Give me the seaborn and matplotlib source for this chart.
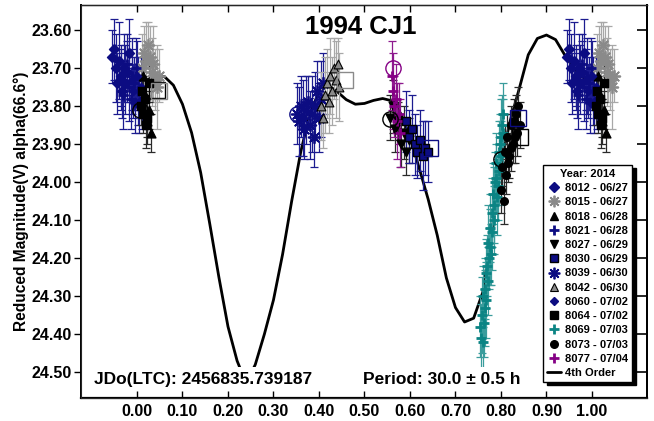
import numpy as np
import matplotlib.pyplot as plt
from matplotlib.lines import Line2D
from matplotlib.ticker import FormatStrFormatter, MultipleLocator
import seaborn as sns

NAVY = '#0c0c82'
GRAY = '#8a8a8a'
TEAL = '#0b8484'
PURPLE = '#850085'

# 4th order fit
fit_phase = [0.00, 0.02, 0.04, 0.06, 0.08, 0.10, 0.12, 0.14, 0.16, 0.18,
             0.20, 0.22, 0.24, 0.26, 0.28, 0.30, 0.32, 0.34, 0.36, 0.38,
             0.40, 0.42, 0.44, 0.46, 0.48, 0.50, 0.52, 0.54, 0.56, 0.58,
             0.60, 0.62, 0.64, 0.66, 0.68, 0.70, 0.72, 0.74, 0.76, 0.78,
             0.80, 0.82, 0.84, 0.86, 0.88, 0.90, 0.92, 0.94, 0.96, 0.98, 1.00]
fit_mag = [23.735, 23.731, 23.725, 23.722, 23.745, 23.795, 23.870, 23.975, 24.110, 24.250,
           24.380, 24.470, 24.530, 24.480, 24.400, 24.310, 24.190, 24.050, 23.920, 23.820,
           23.762, 23.745, 23.762, 23.783, 23.795, 23.793, 23.785, 23.780, 23.786, 23.820,
           23.880, 23.962, 24.045, 24.140, 24.252, 24.330, 24.368, 24.358, 24.290, 24.130,
           23.950, 23.840, 23.755, 23.665, 23.622, 23.613, 23.625, 23.665, 23.700, 23.725, 23.735]

# sessions (phase, reduced mag, error)
ph_8012 = [-0.054, -0.050, -0.047, -0.043, -0.040, -0.036, -0.033, -0.029, -0.026, -0.022, -0.018]
mag_8012 = [23.67, 23.65, 23.70, 23.74, 23.68, 23.72, 23.76, 23.70, 23.74, 23.71, 23.66]
err_8012 = [0.07, 0.08, 0.09, 0.08, 0.10, 0.08, 0.07, 0.09, 0.08, 0.08, 0.09]

ph_8015 = [0.012, 0.016, 0.020, 0.024, 0.028, 0.032, 0.036, 0.040, 0.044, 0.048]
mag_8015 = [23.70, 23.66, 23.68, 23.64, 23.67, 23.71, 23.69, 23.73, 23.75, 23.72]
err_8015 = [0.09, 0.07, 0.10, 0.06, 0.08, 0.09, 0.10, 0.08, 0.11, 0.07]

ph_8018 = [0.014, 0.018, 0.022, 0.026, 0.030]
mag_8018 = [23.72, 23.77, 23.84, 23.81, 23.87]
err_8018 = [0.05, 0.05, 0.06, 0.05, 0.05]

ph_8021 = [-0.036, -0.031, -0.027, -0.022, -0.018, -0.014, -0.010, -0.006, -0.002, 0.002]
mag_8021 = [23.73, 23.77, 23.71, 23.69, 23.75, 23.78, 23.72, 23.74, 23.70, 23.76]
err_8021 = [0.08, 0.09, 0.07, 0.08, 0.09, 0.08, 0.10, 0.07, 0.08, 0.09]

ph_8027 = [0.556, 0.562, 0.568, 0.574, 0.580, 0.586, 0.592, 0.598]
mag_8027 = [23.83, 23.80, 23.86, 23.84, 23.90, 23.87, 23.92, 23.89]
err_8027 = [0.06, 0.07, 0.06, 0.05, 0.06, 0.07, 0.06, 0.06]

ph_8030 = [0.592, 0.598, 0.604, 0.610, 0.616, 0.622, 0.628, 0.634, 0.640]
mag_8030 = [23.84, 23.88, 23.86, 23.90, 23.92, 23.89, 23.93, 23.91, 23.92]
err_8030 = [0.08, 0.07, 0.09, 0.08, 0.07, 0.08, 0.09, 0.07, 0.08]

ph_8039 = [0.352, 0.356, 0.360, 0.364, 0.368, 0.372, 0.376, 0.380, 0.384,
           0.388, 0.392, 0.396, 0.400, 0.404, 0.408]
mag_8039 = [23.82, 23.84, 23.80, 23.83, 23.86, 23.81, 23.79, 23.85, 23.82,
            23.88, 23.80, 23.76, 23.83, 23.78, 23.74]
err_8039 = [0.08, 0.09, 0.08, 0.10, 0.08, 0.09, 0.07, 0.09, 0.10,
            0.08, 0.09, 0.08, 0.09, 0.10, 0.08]

ph_8042 = [0.405, 0.409, 0.413, 0.417, 0.421, 0.425, 0.429, 0.433, 0.437, 0.441, 0.445]
mag_8042 = [23.80, 23.83, 23.77, 23.74, 23.79, 23.72, 23.76, 23.70, 23.73, 23.69, 23.75]
err_8042 = [0.09, 0.08, 0.10, 0.09, 0.08, 0.10, 0.09, 0.08, 0.10, 0.07, 0.09]

ph_8060 = [-0.012, -0.008, -0.004, 0.000, 0.004, 0.008, 0.012]
mag_8060 = [23.73, 23.76, 23.79, 23.72, 23.80, 23.75, 23.78]
err_8060 = [0.08, 0.07, 0.08, 0.09, 0.07, 0.08, 0.08]

ph_8064 = [0.008, 0.011, 0.014, 0.017, 0.020, 0.023, 0.026]
mag_8064 = [23.80, 23.76, 23.82, 23.78, 23.85, 23.83, 23.74]
err_8064 = [0.05, 0.06, 0.05, 0.05, 0.06, 0.05, 0.05]

ph_8069 = [0.754, 0.756, 0.758, 0.760, 0.761, 0.762, 0.764, 0.765, 0.767, 0.768,
           0.770, 0.771, 0.772, 0.774, 0.775, 0.777, 0.778, 0.780, 0.781, 0.782,
           0.784, 0.785, 0.787, 0.788, 0.790, 0.791, 0.793, 0.795, 0.796, 0.798,
           0.799, 0.801, 0.802, 0.804, 0.805]
mag_8069 = [24.38, 24.41, 24.35, 24.30, 24.42, 24.37, 24.33, 24.28, 24.24, 24.31,
            24.22, 24.26, 24.16, 24.20, 24.12, 24.17, 24.19, 24.08, 24.13, 24.03,
            24.10, 24.06, 24.00, 23.99, 23.95, 24.04, 24.01, 23.92, 23.97, 23.90,
            23.88, 23.93, 23.85, 23.87, 23.82]
err_8069 = [0.08, 0.09, 0.10, 0.08, 0.07, 0.09, 0.10, 0.08, 0.09, 0.10,
            0.08, 0.09, 0.10, 0.08, 0.09, 0.10, 0.08, 0.09, 0.10, 0.08,
            0.09, 0.10, 0.08, 0.09, 0.08, 0.10, 0.09, 0.08, 0.09, 0.08,
            0.10, 0.09, 0.08, 0.09, 0.08]

ph_8073 = [0.800, 0.803, 0.806, 0.808, 0.811, 0.813, 0.816, 0.818, 0.821, 0.823,
           0.826, 0.828, 0.831, 0.833, 0.836, 0.838, 0.841]
mag_8073 = [24.02, 23.96, 24.05, 23.92, 23.98, 23.88, 23.95, 23.93, 23.85, 23.91,
            23.90, 23.84, 23.88, 23.82, 23.87, 23.80, 23.85]
err_8073 = [0.06, 0.05, 0.06, 0.07, 0.05, 0.06, 0.05, 0.06, 0.05, 0.06,
            0.05, 0.06, 0.07, 0.05, 0.06, 0.05, 0.06]

ph_8077 = [0.560, 0.563, 0.566, 0.569, 0.572, 0.575, 0.578]
mag_8077 = [23.72, 23.76, 23.80, 23.78, 23.84, 23.82, 23.87]
err_8077 = [0.09, 0.10, 0.08, 0.09, 0.10, 0.08, 0.09]

# open markers (first point circles, last point squares)
first_ph = [0.007, 0.352, 0.556, 0.563, 0.800]
first_mag = [23.81, 23.82, 23.835, 23.70, 23.94]
first_col = ['black', NAVY, 'black', PURPLE, 'black']
last_ph = [0.044, 0.048, 0.457, 0.644, 0.837, 0.842]
last_mag = [23.758, 23.76, 23.73, 23.91, 23.83, 23.88]
last_col = ['black', GRAY, GRAY, NAVY, NAVY, 'black']

STAR = (8, 2, 0)
sessions = [
    ('8012 - 06/27', ph_8012, mag_8012, err_8012, NAVY, 'D', NAVY, 26, 1),
    ('8015 - 06/27', ph_8015, mag_8015, err_8015, GRAY, STAR, GRAY, 70, 1.3),
    ('8018 - 06/28', ph_8018, mag_8018, err_8018, 'black', '^', 'black', 40, 1),
    ('8021 - 06/28', ph_8021, mag_8021, err_8021, NAVY, '+', NAVY, 60, 2),
    ('8027 - 06/29', ph_8027, mag_8027, err_8027, 'black', 'v', 'black', 40, 1),
    ('8030 - 06/29', ph_8030, mag_8030, err_8030, NAVY, 's', 'black', 40, 1),
    ('8039 - 06/30', ph_8039, mag_8039, err_8039, NAVY, STAR, NAVY, 70, 1.3),
    ('8042 - 06/30', ph_8042, mag_8042, err_8042, GRAY, '^', 'black', 40, 0.8),
    ('8060 - 07/02', ph_8060, mag_8060, err_8060, NAVY, 'D', NAVY, 18, 1),
    ('8064 - 07/02', ph_8064, mag_8064, err_8064, 'black', 's', 'black', 40, 1),
    ('8069 - 07/03', ph_8069, mag_8069, err_8069, TEAL, '+', TEAL, 60, 2),
    ('8073 - 07/03', ph_8073, mag_8073, err_8073, 'black', 'o', 'black', 30, 1),
    ('8077 - 07/04', ph_8077, mag_8077, err_8077, PURPLE, '+', PURPLE, 60, 2),
]

bar_colors = {NAVY: '#1c1c90', GRAY: '#a8a8a8', 'black': '#2a2a2a',
              TEAL: '#3a9c9c', PURPLE: '#8e1a8e'}

sns.set_style('ticks')
plt.rcParams['font.family'] = ['Liberation Sans', 'DejaVu Sans']
plt.rcParams['font.weight'] = 'bold'
plt.rcParams['text.color'] = 'black'
plt.rcParams['axes.labelcolor'] = 'black'
plt.rcParams['xtick.color'] = 'black'
plt.rcParams['ytick.color'] = 'black'

fig = plt.figure(figsize=(6.54, 4.21), dpi=100)
ax = fig.add_axes([0.1239, 0.0546, 0.8654, 0.9335])

sns.lineplot(x=fit_phase, y=fit_mag, color='black', lw=2, ax=ax, zorder=1)

for label, ph, mag, err, col, mk, ec, size, lw in sessions:
    ph = np.array(ph)
    mag = np.array(mag)
    err = np.array(err)
    # repeat the start of the cycle after phase 1
    wrap = ph < 0.06
    x = np.concatenate([ph, ph[wrap] + 1])
    y = np.concatenate([mag, mag[wrap]])
    e = np.concatenate([err, err[wrap]])
    ax.errorbar(x, y, yerr=e, fmt='none', ecolor=bar_colors[col],
                elinewidth=0.9, capsize=3, capthick=0.9, zorder=2)
    if mk in ('+', STAR):
        sns.scatterplot(x=x, y=y, marker=mk, s=size, color=col, linewidth=lw,
                        ax=ax, zorder=3, legend=False)
    else:
        sns.scatterplot(x=x, y=y, marker=mk, s=size, color=col, edgecolor=ec,
                        linewidth=lw, ax=ax, zorder=3, legend=False)

for px, py, c in zip(first_ph, first_mag, first_col):
    ax.plot(px, py, 'o', ms=11, mfc='none', mec=c, mew=1, zorder=4)
for px, py, c in zip(last_ph, last_mag, last_col):
    ax.plot(px, py, 's', ms=11, mfc='none', mec=c, mew=1, zorder=4)

ax.set_xlim(-0.123, 1.121)
ax.set_ylim(24.568, 23.534)
ax.yaxis.set_major_locator(MultipleLocator(0.1))
ax.xaxis.set_major_formatter(FormatStrFormatter('%.2f'))
ax.yaxis.set_major_formatter(FormatStrFormatter('%.2f'))
ax.set_xticks(np.round(np.arange(0, 1.01, 0.1), 2))
ax.tick_params(axis='x', direction='in', top=True, length=5, width=1,
               labelsize=11.5, pad=4)
ax.tick_params(axis='y', direction='out', length=5, width=1,
               labelsize=11.5, pad=1.5)
for lbl in ax.get_xticklabels() + ax.get_yticklabels():
    lbl.set_fontweight('bold')
for side, w in [('left', 1.4), ('bottom', 1.6), ('top', 1.0), ('right', 1.4)]:
    ax.spines[side].set_linewidth(w)
    ax.spines[side].set_color('black')

# right-hand ticks point inward
ax_r = ax.twinx()
ax_r.set_ylim(ax.get_ylim())
ax_r.yaxis.set_major_locator(MultipleLocator(0.1))
ax_r.tick_params(axis='y', direction='in', length=7, width=1.2,
                 labelright=False, color='black')
ax_r.spines['right'].set_linewidth(1.4)
ax_r.spines['right'].set_color('black')

ax.set_ylabel('Reduced Magnitude(V) alpha(66.6°)', fontsize=11.2,
              fontweight='bold', labelpad=2)
ax.set_xlabel('')

ax.text(0.495, 0.944, '1994 CJ1', transform=ax.transAxes, ha='center',
        va='center', fontsize=18.5, fontweight='bold', zorder=10)
box = dict(boxstyle='square,pad=0.25', fc='white', ec='none')
ax.text(0.023, 0.048, 'JDo(LTC): 2456835.739187', transform=ax.transAxes,
        ha='left', va='center', fontsize=12.5, fontweight='bold', bbox=box, zorder=10)
ax.text(0.498, 0.048, 'Period: 30.0 ± 0.5 h', transform=ax.transAxes,
        ha='left', va='center', fontsize=12.5, fontweight='bold', bbox=box, zorder=10)

handles = []
for label, ph, mag, err, col, mk, ec, size, lw in sessions:
    ms = np.sqrt(size)
    if mk in ('+', STAR):
        h = Line2D([], [], ls='none', marker=mk, color=col, ms=ms, mew=lw, label=label)
    else:
        h = Line2D([], [], ls='none', marker=mk, mfc=col, mec=ec, ms=ms, mew=lw, label=label)
    handles.append(h)
handles.append(Line2D([], [], color='black', lw=2, label='4th Order'))

leg = ax_r.legend(handles=handles, title='Year: 2014', loc='lower right',
                  bbox_to_anchor=(0.974, 0.041), borderaxespad=0, fontsize=8,
                  title_fontproperties={'weight': 'bold', 'size': 8},
                  frameon=True, fancybox=False,
                  shadow={'color': 'black', 'alpha': 1, 'ox': 2.5, 'oy': -2.5},
                  framealpha=1, edgecolor='black', handlelength=1.3,
                  handletextpad=0.35, labelspacing=0.38, borderpad=0.35)
leg.get_frame().set_linewidth(1)
for t in leg.get_texts():
    t.set_fontweight('bold')

fig.savefig('out.png', dpi=100)
